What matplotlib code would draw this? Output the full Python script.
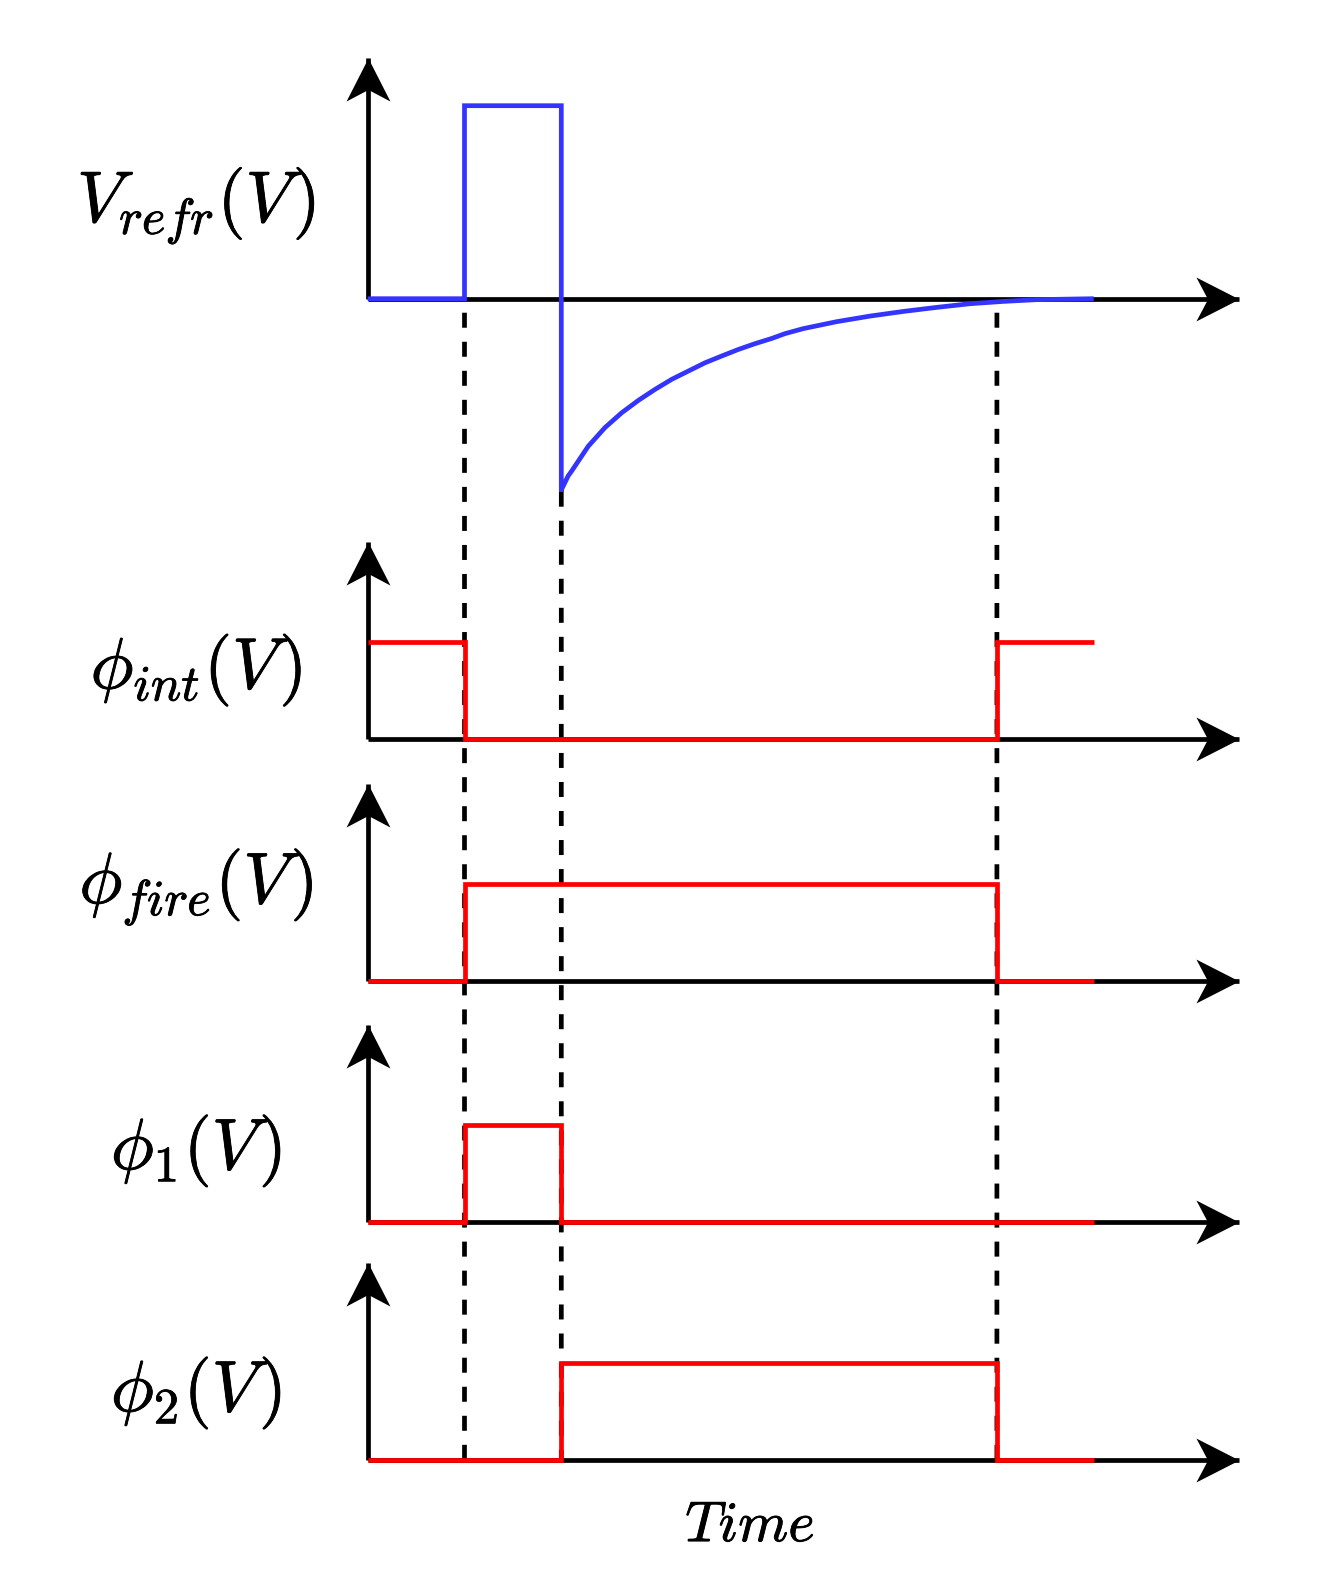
import matplotlib
matplotlib.use("Agg")
import matplotlib.pyplot as plt
import matplotlib.patheffects as pe
from matplotlib.path import Path
from matplotlib.patches import ConnectionPatch

plt.rcParams['mathtext.fontset'] = 'cm'
plt.rcParams['lines.scale_dashes'] = False

# switching instants (time units)
eventTimes = [1, 2, 6.5]
tEnd = 7.5
tAxisEnd = 9

# V_refr: rectangular pulse then a recovery from -1 back to 0
vrefrT = [0, 1, 1, 2, 2, 2.003, 2.07, 2.107, 2.279, 2.451, 2.624, 2.796, 2.968, 3.140, 3.312,
          3.485, 3.657, 3.829, 4.001, 4.174, 4.311, 4.50, 4.845, 5.19, 5.533, 5.878, 6.222,
          6.566, 6.91, 7.255, 7.5]
vrefrV = [0, 0, 1, 1, -1, -0.988, -0.919, -0.893, -0.764, -0.668, -0.591, -0.527, -0.470, -0.418, -0.375,
          -0.332, -0.297, -0.263, -0.233, -0.206, -0.181, -0.155, -0.119, -0.090, -0.066, -0.045, -0.026,
          -0.014, -0.005, -0.002, 0]

# clock phases (times / levels of the steps)
phiIntT = [0, 1, 1, 6.5, 6.5, 7.5]
phiIntV = [1, 1, 0, 0, 1, 1]
phiFireT = [0, 1, 1, 6.5, 6.5, 7.5]
phiFireV = [0, 0, 1, 1, 0, 0]
phi1T = [0, 1, 1, 2, 2, 7.5]
phi1V = [0, 0, 1, 1, 0, 0]
phi2T = [0, 2, 2, 6.5, 6.5, 7.5]
phi2V = [0, 0, 1, 1, 0, 0]

labels = [r'$V_{refr}(V\hspace{0.08})$', r'$\phi_{int}(V\hspace{0.08})$', r'$\phi_{fire}(V\hspace{0.08})$',
          r'$\phi_1(V\hspace{0.08})$', r'$\phi_2(V\hspace{0.08})$']

BLUE = '#3434ff'
RED = '#ff0000'
LW = 3.4

W, H = 1327, 1593
T0_PX = 367.7
PX_PER_T = 96.8

# stealth style arrow heads (tip at origin)
ARROW_RIGHT = Path([(0, 0), (-1, 0.51), (-0.73, 0), (-1, -0.51), (0, 0)],
                   [Path.MOVETO, Path.LINETO, Path.LINETO, Path.LINETO, Path.CLOSEPOLY])
ARROW_UP = Path([(0, 0), (-0.51, -1), (0, -0.73), (0.51, -1), (0, 0)],
                [Path.MOVETO, Path.LINETO, Path.LINETO, Path.LINETO, Path.CLOSEPOLY])

BOLDER = [pe.withStroke(linewidth=0.6, foreground='black')]


def addPanel(fig, basePx, unitPx, ylo, yhi):
    bottomPx = basePx - ylo * unitPx
    ax = fig.add_axes([0, 1 - bottomPx / H, 1, (yhi - ylo) * unitPx / H])
    ax.set_xlim(-T0_PX / PX_PER_T, (W - T0_PX) / PX_PER_T)
    ax.set_ylim(ylo, yhi)
    ax.axis('off')
    ax.patch.set_alpha(0)
    ax.set_zorder(2)  # signals above the dashed guides
    return ax


def drawAxes(ax, yTip):
    ax.plot([0, tAxisEnd], [0, 0], color='black', lw=LW, solid_capstyle='butt', zorder=2)
    ax.plot([0, 0], [0, yTip], color='black', lw=LW, solid_capstyle='butt', zorder=2)
    ax.plot([tAxisEnd], [0], marker=ARROW_RIGHT, ms=62, mew=0, color='black', clip_on=False, zorder=2)
    ax.plot([0], [yTip], marker=ARROW_UP, ms=62, mew=0, color='black', clip_on=False, zorder=2)


def main():
    fig = plt.figure(figsize=(W / 100, H / 100), dpi=100)

    # (baseline px, px per unit, ylim low, ylim high, arrow tip, label height)
    panelSpecs = [
        (298.7, 193, -1.3, 1.45, 1.248, 0.40),
        (738.6, 97, -0.6, 2.3, 2.03, 0.52),
        (980.5, 97, -0.6, 2.3, 2.03, 0.80),
        (1222.3, 97, -0.6, 2.3, 2.03, 0.55),
        (1460.0, 97, -1.2, 2.3, 2.03, 0.505),
    ]
    series = [(vrefrT, vrefrV, BLUE), (phiIntT, phiIntV, RED), (phiFireT, phiFireV, RED),
              (phi1T, phi1V, RED), (phi2T, phi2V, RED)]

    axes = []
    for spec, (t, v, col), lab in zip(panelSpecs, series, labels):
        basePx, unitPx, ylo, yhi, yTip, labY = spec
        ax = addPanel(fig, basePx, unitPx, ylo, yhi)
        drawAxes(ax, yTip)
        ax.plot(t, v, color=col, lw=LW, solid_joinstyle='miter', solid_capstyle='butt', zorder=3)
        ax.text(-1.77, labY, lab, fontsize=52, ha='center', va='baseline', path_effects=BOLDER)
        axes.append(ax)

    axes[-1].text(3.95, -0.84, r'$Time$', fontsize=41, ha='center', va='baseline', path_effects=BOLDER)

    # dashed guides through all panels
    for t in eventTimes:
        if t == 2:
            startY = vrefrV[vrefrT.index(2) + 1]
            dashes = (0, (10.8, 10.1))
        else:
            startY = 0
            dashes = (10.8, (10.8, 10.1))
        con = ConnectionPatch(xyA=(t, startY), coordsA=axes[0].transData,
                              xyB=(t, 0), coordsB=axes[-1].transData,
                              color='black', lw=LW, linestyle=dashes, capstyle='butt', zorder=1)
        fig.add_artist(con)

    fig.savefig('out.png', dpi=100)


if __name__ == "__main__":
    main()
